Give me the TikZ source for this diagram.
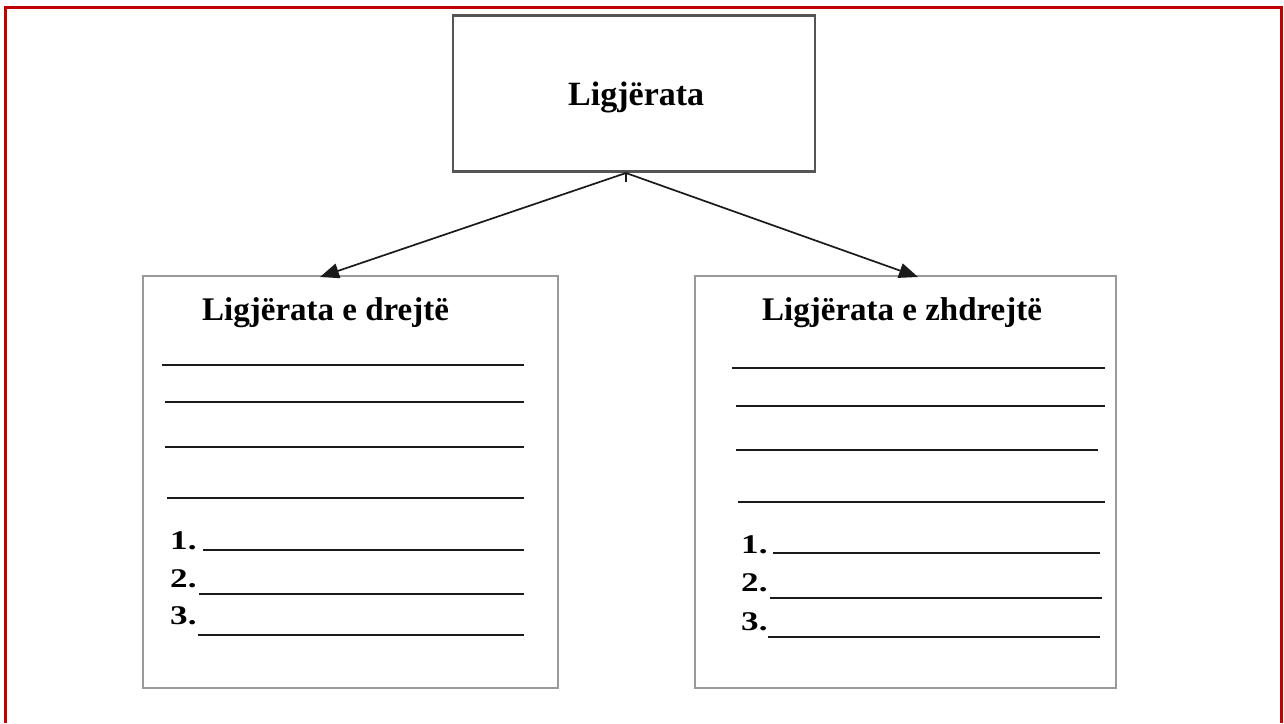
\documentclass[tikz,border=0pt]{standalone}
\usepackage{fontspec}
\usepackage{graphicx}
\setmainfont{Liberation Serif}
\usetikzlibrary{arrows.meta}
\definecolor{framered}{HTML}{C00000}
\definecolor{topgray}{HTML}{555555}
\definecolor{boxgray}{HTML}{9A9A9A}
\definecolor{ink}{HTML}{1A1A1A}
\newcommand{\wnum}[1]{\scalebox{1.3}[1]{#1}}
\tikzset{
  topbox/.style={draw=topgray,line width=2.6pt,minimum width=362pt,minimum height=156pt,inner sep=0pt},
  sidebox/.style={draw=boxgray,line width=1.5pt,inner sep=0pt},
  title/.style={font=\bfseries\fontsize{33}{38}\selectfont,anchor=base west,inner sep=0pt},
  num/.style={font=\bfseries\fontsize{27}{32}\selectfont,anchor=base west,inner sep=0pt},
  rule/.style={draw=ink,line width=2pt},
  conn/.style={draw=ink,line width=1.7pt,-{Triangle[length=19pt,width=15pt]}}
}
\begin{document}
\begin{tikzpicture}[x=1pt,y=-1pt]
\useasboundingbox (0,0) rectangle (1284,723);
\draw[framered,line width=3pt] (5,723) -- (5,7) -- (1281,7) -- (1281,723);

\node[topbox] (top) at (634,93.5) {};
\node[title,font=\bfseries\fontsize{34}{38}\selectfont] (toptext) at (568,105) {Ligjërata};

\node[sidebox,minimum width=415pt,minimum height=412pt] (lbox) at (350.5,482) {};
\node[sidebox,minimum width=421pt,minimum height=412pt] (rbox) at (905.5,482) {};

\coordinate (src) at (626,173);
\coordinate (tick) at (626,182);
\coordinate (lt) at (320,277);
\coordinate (rt) at (918,277);
\draw[draw=ink,line width=1.2pt] (src) -- (tick);
\draw[conn] (src) -- (lt);
\draw[conn] (src) -- (rt);

\node[title] (ltitle) at (202,320) {Ligjërata e drejtë};
\node[title] (rtitle) at (762,320) {Ligjërata e zhdrejtë};

% left box rules
\draw[rule] (162,365) -- (524,365);
\draw[rule] (165,402) -- (524,402);
\draw[rule] (165,447) -- (524,447);
\draw[rule] (167,498) -- (524,498);
\node[num] (l1) at (170,549) {\wnum{1.}};
\node[num] (l2) at (170,587) {\wnum{2.}};
\node[num] (l3) at (170,624) {\wnum{3.}};
\draw[rule] (203,550) -- (524,550);
\draw[rule] (199,594) -- (524,594);
\draw[rule] (198,635) -- (524,635);

% right box rules
\draw[rule] (732,368) -- (1105,368);
\draw[rule] (736,406) -- (1105,406);
\draw[rule] (736,450) -- (1098,450);
\draw[rule] (738,502) -- (1105,502);
\node[num] (r1) at (741,553) {\wnum{1.}};
\node[num] (r2) at (741,591) {\wnum{2.}};
\node[num] (r3) at (741,630) {\wnum{3.}};
\draw[rule] (773,553) -- (1100,553);
\draw[rule] (770,598) -- (1102,598);
\draw[rule] (768,637) -- (1100,637);
\end{tikzpicture}
\end{document}
